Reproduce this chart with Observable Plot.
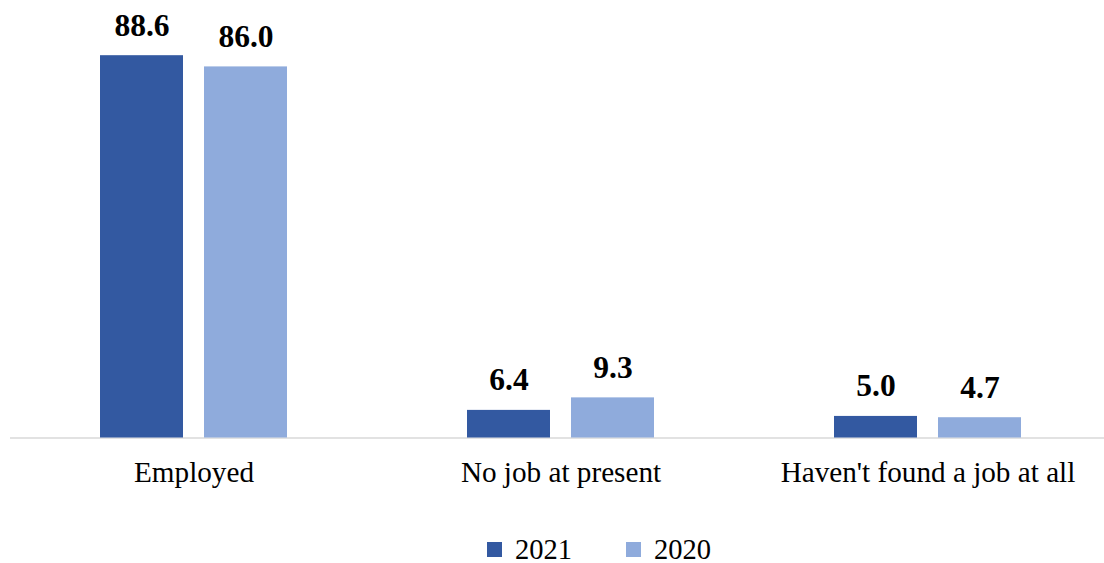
<!DOCTYPE html>
<html>
<head>
<meta charset="utf-8">
<script src="https://cdn.jsdelivr.net/npm/d3@7"></script>
<script src="https://cdn.jsdelivr.net/npm/@observablehq/plot@0.6"></script>
<style>
  html, body { margin: 0; padding: 0; background: #fff; }
  #chart svg { display: block; }
  #chart svg, #chart svg text { font-family: "Liberation Serif", serif !important; }
  #legend { display: flex; align-items: center; height: 28px; margin-left: 487px;
            font-family: "Liberation Serif", serif; font-size: 28.5px; line-height: 27px; color: #000; }
  .item { display: flex; align-items: center; }
  .sw { width: 15px; height: 15px; display: inline-block; margin-right: 13px; }
</style>
</head>
<body>
<div id="chart"></div>
<div id="legend"></div>
<script>
const categories = ["Employed", "No job at present", "Haven't found a job at all"];
const years = ["2021", "2020"];
const values2021 = [88.6, 6.4, 5.0];
const values2020 = [86.0, 9.3, 4.7];
const colors = ["#3359a1", "#8fabdc"];

const data = [];
categories.forEach((c, i) => {
  data.push({category: c, year: "2021", value: values2021[i]});
  data.push({category: c, year: "2020", value: values2020[i]});
});

const chart = Plot.plot({
  width: 1104,
  height: 535,
  marginLeft: 10,
  marginRight: -7,
  marginTop: 6,
  marginBottom: 97.5,
  style: {fontFamily: "Liberation Serif", fontSize: "28px", color: "#000", background: "#fff"},
  fx: {domain: categories, padding: 0, label: null, axis: null},
  x: {domain: years, paddingInner: 0.2, paddingOuter: 0.848, axis: null},
  y: {domain: [0, 100], axis: null},
  color: {domain: years, range: colors},
  marks: [
    Plot.ruleY([0], {stroke: "#d9d9d9", strokeWidth: 1.5}),
    Plot.barY(data, {fx: "category", x: "year", y: "value", fill: "year"}),
    Plot.text(data, {fx: "category", x: "year", y: "value", text: d => d.value.toFixed(1),
      lineAnchor: "bottom", dy: -20, fontWeight: "bold", fontSize: 31.5, fill: "#000"}),
    Plot.axisFx({anchor: "bottom", tickSize: 0, tickPadding: 23, fontSize: 29.2, label: null, lineAnchor: "top"})
  ]
});
document.getElementById("chart").appendChild(chart);

const legend = document.getElementById("legend");
years.forEach((y, i) => {
  const item = document.createElement("div");
  item.className = "item";
  if (i > 0) item.style.marginLeft = "54px";
  const sw = document.createElement("span");
  sw.className = "sw";
  sw.style.background = colors[i];
  item.appendChild(sw);
  const t = document.createElement("span");
  t.textContent = y;
  item.appendChild(t);
  legend.appendChild(item);
});
</script>
</body>
</html>
